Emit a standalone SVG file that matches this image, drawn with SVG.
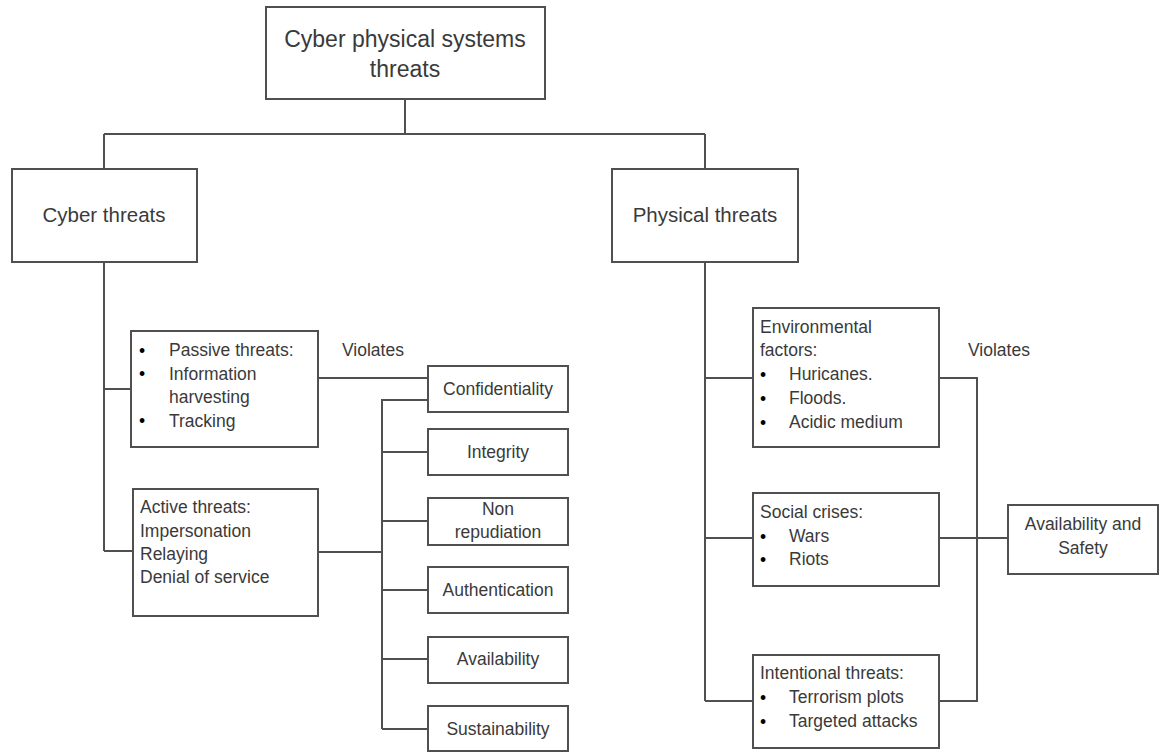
<svg xmlns="http://www.w3.org/2000/svg" width="1163" height="752" viewBox="0 0 1163 752">
  <style>
    .box { fill: #ffffff; stroke: #505050; stroke-width: 2; }
    .wire { fill: none; stroke: #505050; stroke-width: 2; }
    text { font-family: "Liberation Sans", Arial, sans-serif; fill: #3a3a3a; }
    .t1 { font-size: 23px; text-anchor: middle; }
    .t2 { font-size: 20.5px; text-anchor: middle; }
    .t3 { font-size: 17.5px; }
    .c { text-anchor: middle; }
    .b { font-size: 17.5px; fill: #000; }
  </style>

  <rect width="1163" height="752" fill="#ffffff"/>

  <!-- connectors -->
  <g id="connectors" class="wire">
    <path d="M405 99 V134 M104 134 H705 M104 134 V169 M705 134 V169"/>
    <path d="M104 262 V551 M104 389 H131 M104 551 H133"/>
    <path d="M318 378 H428"/>
    <path d="M428 400 H382 V729 M318 552 H382"/>
    <path d="M382 452 H428 M382 521 H428 M382 590 H428 M382 659 H428 M382 729 H428"/>
    <path d="M705 262 V701 M705 378 H753 M705 538 H753 M705 701 H753"/>
    <path d="M939 378 H977 V701 H939 M939 538 H1008"/>
  </g>

  <!-- root -->
  <g id="root">
    <rect class="box" x="266" y="7" width="279" height="92"/>
    <text class="t1" x="405" y="47">Cyber physical systems</text>
    <text class="t1" x="405" y="77">threats</text>
  </g>

  <!-- second level -->
  <g id="cyber-threats">
    <rect class="box" x="12" y="169" width="185" height="93"/>
    <text class="t2" x="104" y="222">Cyber threats</text>
  </g>
  <g id="physical-threats">
    <rect class="box" x="612" y="169" width="186" height="93"/>
    <text class="t2" x="705" y="222">Physical threats</text>
  </g>

  <!-- cyber branch -->
  <g id="passive-threats">
    <rect class="box" x="131" y="331" width="187" height="116"/>
    <text class="b" x="139" y="357">•</text>
    <text class="b" x="139" y="380">•</text>
    <text class="b" x="139" y="427">•</text>
    <text class="t3" x="169" y="356">Passive threats:</text>
    <text class="t3" x="169" y="380">Information</text>
    <text class="t3" x="169" y="403">harvesting</text>
    <text class="t3" x="169" y="427">Tracking</text>
  </g>
  <g id="active-threats">
    <rect class="box" x="133" y="489" width="185" height="127"/>
    <text class="t3" x="140" y="513">Active threats:</text>
    <text class="t3" x="140" y="537">Impersonation</text>
    <text class="t3" x="140" y="560">Relaying</text>
    <text class="t3" x="140" y="583">Denial of service</text>
  </g>
  <g id="violates-cyber">
    <text class="t3" x="342" y="356">Violates</text>
  </g>

  <g id="confidentiality">
    <rect class="box" x="428" y="366" width="140" height="46"/>
    <text class="t3 c" x="498" y="395">Confidentiality</text>
  </g>
  <g id="integrity">
    <rect class="box" x="428" y="429" width="140" height="46"/>
    <text class="t3 c" x="498" y="458">Integrity</text>
  </g>
  <g id="non-repudiation">
    <rect class="box" x="428" y="498" width="140" height="47"/>
    <text class="t3 c" x="498" y="515">Non</text>
    <text class="t3 c" x="498" y="538">repudiation</text>
  </g>
  <g id="authentication">
    <rect class="box" x="428" y="567" width="140" height="46"/>
    <text class="t3 c" x="498" y="596">Authentication</text>
  </g>
  <g id="availability">
    <rect class="box" x="428" y="637" width="140" height="46"/>
    <text class="t3 c" x="498" y="665">Availability</text>
  </g>
  <g id="sustainability">
    <rect class="box" x="428" y="706" width="140" height="45"/>
    <text class="t3 c" x="498" y="735">Sustainability</text>
  </g>

  <!-- physical branch -->
  <g id="environmental-factors">
    <rect class="box" x="753" y="308" width="186" height="139"/>
    <text class="t3" x="760" y="333">Environmental</text>
    <text class="t3" x="760" y="356">factors:</text>
    <text class="b" x="760" y="381">•</text>
    <text class="b" x="760" y="405">•</text>
    <text class="b" x="760" y="429">•</text>
    <text class="t3" x="789" y="380">Huricanes.</text>
    <text class="t3" x="789" y="404">Floods.</text>
    <text class="t3" x="789" y="428">Acidic medium</text>
  </g>
  <g id="social-crises">
    <rect class="box" x="753" y="493" width="186" height="93"/>
    <text class="t3" x="760" y="518">Social crises:</text>
    <text class="b" x="760" y="543">•</text>
    <text class="b" x="760" y="566">•</text>
    <text class="t3" x="789" y="542">Wars</text>
    <text class="t3" x="789" y="565">Riots</text>
  </g>
  <g id="intentional-threats">
    <rect class="box" x="753" y="655" width="186" height="93"/>
    <text class="t3" x="760" y="679">Intentional threats:</text>
    <text class="b" x="760" y="704">•</text>
    <text class="b" x="760" y="728">•</text>
    <text class="t3" x="789" y="703">Terrorism plots</text>
    <text class="t3" x="789" y="727">Targeted attacks</text>
  </g>
  <g id="violates-physical">
    <text class="t3" x="968" y="356">Violates</text>
  </g>
  <g id="availability-safety">
    <rect class="box" x="1008" y="505" width="150" height="69"/>
    <text class="t3 c" x="1083" y="530">Availability and</text>
    <text class="t3 c" x="1083" y="554">Safety</text>
  </g>
</svg>
